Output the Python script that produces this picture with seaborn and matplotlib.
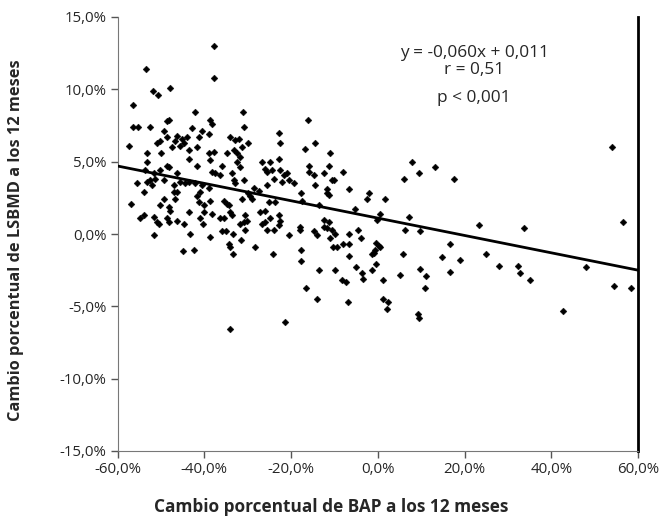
import matplotlib
matplotlib.use("Agg")
import matplotlib.pyplot as plt
import seaborn as sns
import pandas as pd
import numpy as np

# percent change of BAP (x) and LSBMD (y) at 12 months
bap_change = [
    -53.4, -51.9, -50.6, -47.8, -56.5, -42.2, -48.6, -48.2, -56.5, -55.3, -52.4, -42.8,
    -37.7, -37.7, -31.1, -38.7, -38.2, -30.8, -16.1,
    -57.3, -53.2, -49.9, -50.9, -50.1, -48.6, -49.3, -46.3, -45.1, -44.0, -46.7, -45.5,
    -44.7, -47.4, -43.6, -41.7, -41.3, -40.5, -43.6, -53.2, -48.6, -48.2, -50.1, -46.3,
    -41.7, -53.6, -51.7, -52.4, -53.2, -51.3, -49.3, -55.5, -47.0, -45.5, -44.4, -43.6,
    -42.1, -40.5, -52.0, -54.0, -47.0, -46.3, -40.9, -49.3, -46.7, -57.0, -41.7, -41.3,
    -50.1, -48.2, -47.8, -43.6, -40.1, -40.1, -54.0, -54.7, -51.7, -48.6, -40.9,
    -39.0, -34.0, -32.8, -32.1, -29.8, -22.8, -22.5, -31.3, -39.0, -37.8, -34.8, -33.2,
    -32.4, -31.7, -22.8, -38.6, -35.9, -32.4, -31.7, -26.7, -24.8, -25.9, -25.5, -24.4,
    -38.2, -37.5, -36.3, -33.6, -22.5, -20.9, -21.7, -33.2, -30.9, -24.0, -20.5, -32.8,
    -25.5, -22.1, -19.4, -39.0, -28.6, -27.4, -29.8, -29.4, -29.0, -31.3, -38.6, -25.1,
    -23.6, -35.5, -34.8, -34.4, -38.2, -34.0, -33.6, -36.3, -35.5, -30.5, -27.1, -25.9,
    -22.8, -24.8,
    -16.7, -14.4, -10.9, -15.9, -15.8, -14.8, -11.2, -12.5, -7.9, -10.5, -10.0, -14.4,
    -11.7, -11.3, -11.7, -6.7, -17.7, -2.1, -2.5, 1.7, -17.5, -13.6, -5.2, 0.6, -12.5,
    -0.2,
    7.9, 9.6, 13.3, 6.1, 17.5, 7.3, 54.0,
    -50.9, -50.5, -48.2, -46.3, -44.7, -40.3, -51.5, -43.4, -44.9, -42.3,
    -31.7, -30.9, -30.1, -26.7, -25.9, -22.5, -38.6, -35.9, -35.1, -33.4, -30.7, -25.5,
    -23.9, -22.8, -20.4, -34.2, -34.0, -31.5, -28.2, -33.4, -24.2, -21.3, -34.0,
    -17.9, -17.9, -12.5, -11.3, -11.7, -10.5, -14.8, -14.0, -11.1, -9.8, -6.6, -4.6,
    -3.9, -10.4, -9.4, -7.9, -6.6, -6.6, -0.4, 0.2, 0.6, -1.3, -0.9, -0.6, -17.6,
    -17.7, -13.6, -9.8, -5.0, -3.6, -3.5, -1.3, -0.3, -8.2, -7.3, 1.2, 5.2, 5.8, 6.3,
    9.7, 9.7, 11.1, 10.8, 16.7, 14.7, 18.9, 16.7, -16.5, -14.0, -6.9, 1.2, 2.4, 2.1,
    9.2, 9.4,
    23.3, 33.8, 56.5, 25.0, 27.9, 32.3, 32.9, 35.2, 47.9, 54.4, 58.4, 42.7,
]
lsbmd_change = [
    11.4, 9.9, 9.6, 10.1, 8.9, 8.4, 7.8, 7.9, 7.4, 7.4, 7.4, 7.3,
    13.0, 10.8, 8.4, 7.9, 7.6, 7.4, 7.9,
    6.1, 5.6, 5.6, 6.3, 6.4, 6.7, 7.1, 6.8, 6.6, 6.7, 6.4, 6.1,
    6.3, 6.0, 5.8, 6.0, 6.7, 7.1, 5.2, 5.0, 4.7, 4.6, 4.4, 4.2,
    4.7, 4.4, 4.2, 3.7, 3.6, 3.8, 3.7, 3.5, 3.4, 3.6, 3.5, 3.6,
    3.5, 3.4, 3.4, 2.9, 2.9, 2.9, 2.9, 2.4, 2.4, 2.1, 2.6, 2.2,
    2.0, 1.9, 1.6, 1.5, 2.0, 1.5, 1.3, 1.1, 1.2, 1.1, 1.1,
    6.9, 6.7, 6.5, 6.6, 6.3, 7.0, 6.3, 6.0, 5.6, 5.7, 5.6, 5.8,
    5.6, 5.3, 5.2, 5.1, 4.7, 5.0, 4.6, 5.0, 5.0, 4.5, 4.3, 4.4,
    4.3, 4.2, 4.1, 4.2, 4.4, 4.2, 4.1, 3.7, 3.7, 3.8, 3.7, 3.5,
    3.4, 3.6, 3.5, 3.2, 3.2, 3.0, 2.8, 2.6, 2.4, 2.4, 2.3, 2.2,
    2.2, 2.3, 2.1, 2.0, 1.4, 1.5, 1.3, 1.1, 1.1, 1.3, 1.5, 1.6,
    1.3, 1.1,
    5.9, 6.3, 5.6, 4.7, 4.3, 4.1, 4.7, 4.2, 4.3, 3.7, 3.7, 3.4,
    3.1, 2.7, 2.8, 3.1, 2.8, 2.8, 2.4, 2.4, 2.3, 2.0, 1.7, 1.4, 1.0,
    1.0,
    5.0, 4.2, 4.6, 3.8, 3.8, 1.2, 6.0,
    0.8, 0.7, 0.8, 0.9, 0.7, 0.7, -0.1, 0.0, -1.2, -1.1,
    0.7, 0.8, 0.9, 0.7, 0.8, 0.9, -0.2, 0.2, 0.2, 0.0, 0.3, 0.3,
    0.3, 0.6, -0.1, -0.7, -0.9, -0.4, -0.9, -1.4, -1.4, -6.1, -6.6,
    0.5, 0.3, 0.5, 0.8, 0.4, 0.3, 0.2, -0.1, -0.3, 0.0, 0.0, 0.3,
    -0.3, -0.9, -0.9, -0.7, -0.7, -1.5, -0.6, -0.8, -0.9, -1.4, -1.3, -1.1, -1.1,
    -1.9, -2.5, -2.5, -2.3, -2.7, -3.1, -2.5, -2.1, -3.2, -3.3, -3.2, -2.8, -1.4, 0.3,
    0.2, -2.4, -2.9, -3.7, -0.7, -1.6, -1.8, -2.6, -3.7, -4.5, -4.7, -4.5, -4.7, -5.2,
    -5.5, -5.8,
    0.6, 0.4, 0.8, -1.4, -2.2, -2.2, -2.7, -3.2, -2.3, -3.6, -3.7, -5.3,
]

# regression shown on the chart (fractions): y = -0.060x + 0.011
slope = -0.060
intercept = 1.1  # in percent units
fit_x = [-60, 60]

x_ticks = [-60, -40, -20, 0, 20, 40, 60]
x_tick_labels = ["-60,0%", "-40,0%", "-20,0%", "0,0%", "20,0%", "40,0%", "60,0%"]
y_ticks = [-15, -10, -5, 0, 5, 10, 15]
y_tick_labels = ["-15,0%", "-10,0%", "-5,0%", "0,0%", "5,0%", "10,0%", "15,0%"]

sns.set_style("ticks")
plt.rcParams["font.family"] = ["Open Sans", "DejaVu Sans"]

df = pd.DataFrame({"bap": bap_change, "lsbmd": lsbmd_change})

fig = plt.figure(figsize=(6.62, 5.25), dpi=100)
ax = fig.add_axes([117.5 / 662, 1 - 451 / 525, (638 - 117.5) / 662, (451 - 17) / 525])

sns.scatterplot(data=df, x="bap", y="lsbmd", marker="D", s=12, color="black",
                edgecolor="black", linewidth=0.3, ax=ax, zorder=3)
fit_y = [slope * v + intercept for v in fit_x]
sns.lineplot(x=fit_x, y=fit_y, color="black", linewidth=2, ax=ax, zorder=4)

ax.set_xlim(-60, 60)
ax.set_ylim(-15, 15)
ax.set_xticks(x_ticks)
ax.set_xticklabels(x_tick_labels, fontsize=10.8)
ax.set_yticks(y_ticks)
ax.set_yticklabels(y_tick_labels, fontsize=10.8)
ax.tick_params(axis="both", direction="out", length=5, width=1, color="#555555", pad=3)
ax.set_xlabel("")
ax.set_ylabel("Cambio porcentual de LSBMD a los 12 meses", fontsize=11.8,
              fontweight="bold")
ax.yaxis.set_label_coords(-0.18, 0.486)

ax.spines["top"].set_visible(False)
ax.spines["left"].set_color("#777777")
ax.spines["bottom"].set_color("#777777")
ax.spines["right"].set_visible(True)
ax.spines["right"].set_color("black")
ax.spines["right"].set_linewidth(2)

fig.text(0.5, 1 - 507 / 525, "Cambio porcentual de BAP a los 12 meses",
         ha="center", va="center", fontsize=12.4, fontweight="bold")

ax.text(0.685, 0.916, "y = -0,060x + 0,011", transform=ax.transAxes,
        ha="center", va="center", fontsize=12.4)
ax.text(0.685, 0.877, "r = 0,51", transform=ax.transAxes,
        ha="center", va="center", fontsize=12.4)
ax.text(0.685, 0.813, "p < 0,001", transform=ax.transAxes,
        ha="center", va="center", fontsize=12.4)

fig.savefig("out.png", dpi=100)
